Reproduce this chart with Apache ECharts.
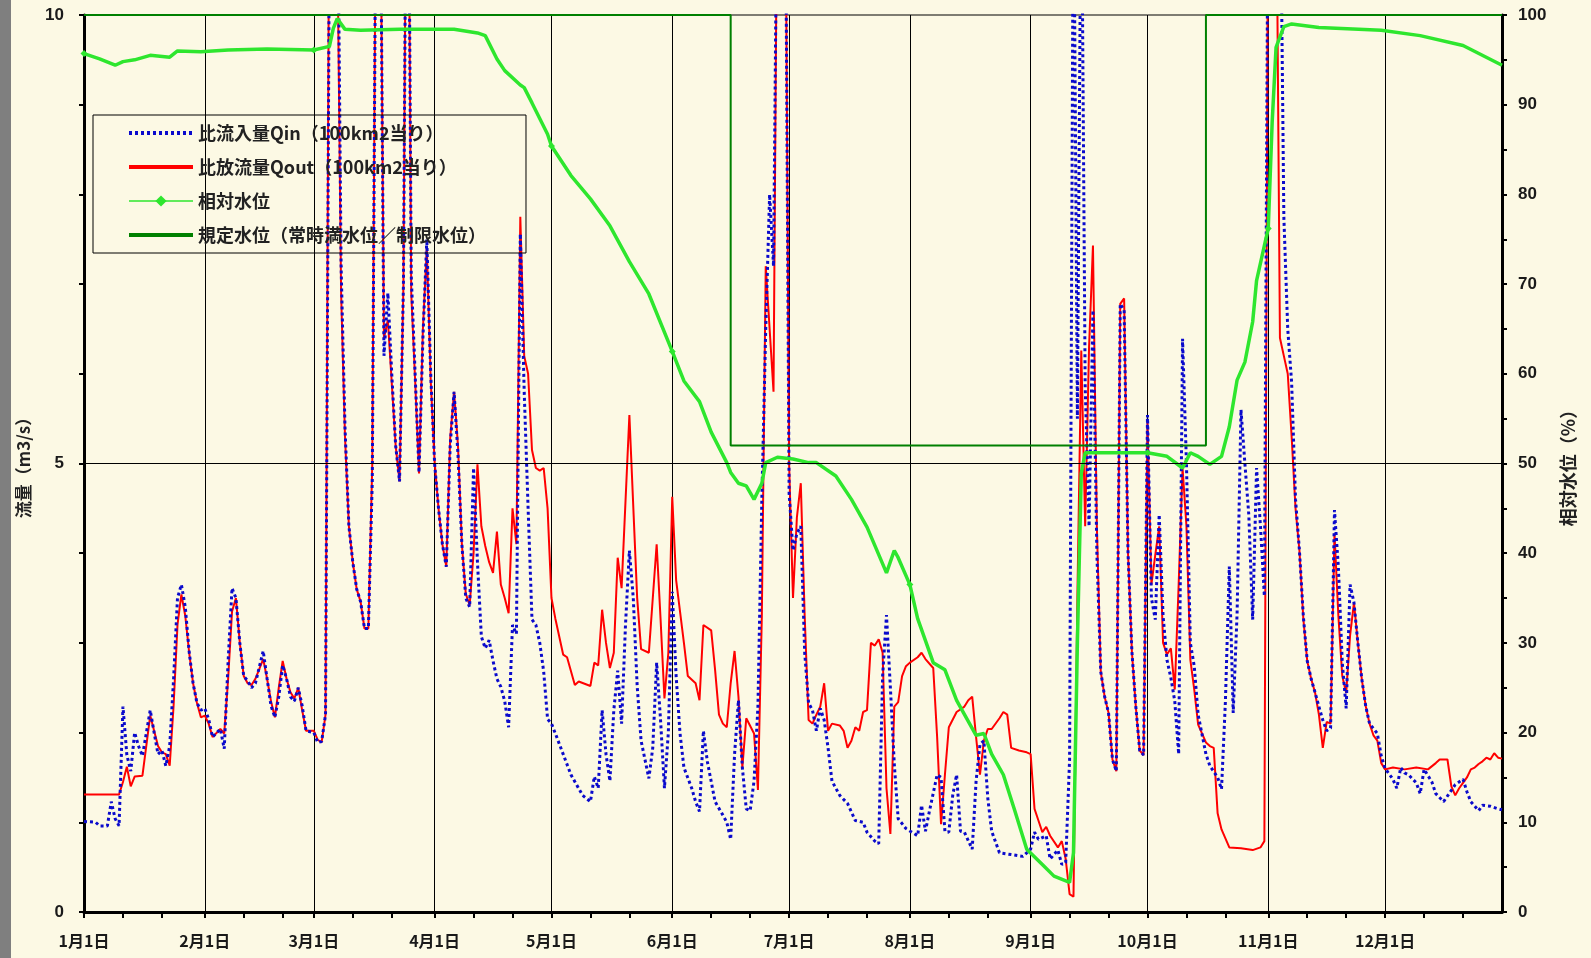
<!DOCTYPE html>
<html><head><meta charset="utf-8">
<script src="https://cdn.jsdelivr.net/npm/echarts/dist/echarts.min.js"></script>
<style>
html,body{margin:0;padding:0;background:#FCF9E4;}
#c{position:absolute;left:0;top:0;width:1591px;height:958px;}
#strip{position:absolute;left:0;top:0;width:11px;height:958px;background:#7F7F7F;z-index:5;}
</style>
</head><body><div id="c"></div><div id="strip"></div>
<script>
// ---- tick labels (categories: every day of the year) ----
const monthDays = [31,28,31,30,31,30,31,31,30,31,30,31];
const categories = [];
monthDays.forEach((n, m) => { for (let d = 1; d <= n; d++) categories.push((m + 1) + '月' + d + '日'); });

const leftAxisLabels = [0, 5, 10];
const rightAxisLabels = [0, 10, 20, 30, 40, 50, 60, 70, 80, 90, 100];

// ---- series values: [dayIndex, value] ----
const qin = [[0,1.01],[3,1.0],[4,0.96],[6,0.96],[7,1.23],[8,1.04],[9,0.96],[10,2.29],[11,1.75],[12,1.57],[13,2.0],[14,1.85],[15,1.74],[17,2.25],[18,2.0],[19,1.76],[20,1.8],[21,1.63],[22,1.85],[23,2.6],[24,3.5],[25,3.65],[26,3.4],[27,2.9],[28,2.55],[29,2.33],[30,2.25],[31,2.27],[32,2.15],[33,1.95],[35,2.04],[36,1.82],[37,2.8],[38,3.61],[39,3.5],[40,3.0],[41,2.63],[42,2.58],[43,2.5],[44,2.55],[46,2.91],[47,2.6],[48,2.3],[49,2.17],[50,2.4],[51,2.75],[52,2.6],[53,2.4],[54,2.35],[55,2.5],[56,2.3],[57,2.02],[59,2.0],[60,1.89],[61,1.9],[62,2.2],[63,11],[65,12],[66,7.2],[67,5.4],[68,4.3],[69,3.9],[70,3.6],[71,3.46],[72,3.16],[73,3.16],[74,4.8],[75,12],[76,12],[77,6.2],[78,6.9],[79,6.0],[80,5.2],[81,4.8],[82,7],[83,14],[84,7.1],[85,6.0],[86,4.9],[87,6.4],[88,7.5],[89,6.0],[90,5.0],[91,4.5],[92,4.1],[93,3.85],[94,5.2],[95,5.8],[96,5.1],[97,4.1],[98,3.5],[99,3.4],[100,4.95],[101,3.9],[102,3.07],[103,2.94],[104,3.03],[105,2.8],[106,2.6],[107,2.51],[108,2.35],[109,2.06],[110,3.2],[111,3.1],[112,7.56],[113,5.8],[114,4.5],[115,3.26],[116,3.2],[117,3.0],[118,2.68],[119,2.15],[120,2.1],[121,1.99],[123,1.76],[125,1.53],[128,1.3],[130,1.23],[131,1.51],[132,1.38],[133,2.25],[134,1.76],[135,1.46],[136,2.25],[137,2.69],[138,2.1],[139,3.2],[140,4.03],[141,3.5],[142,2.52],[143,1.91],[145,1.49],[146,1.83],[147,2.78],[148,2.14],[149,1.38],[150,2.0],[151,3.57],[152,2.63],[153,1.99],[154,1.61],[156,1.38],[157,1.23],[158,1.12],[159,2.02],[160,1.68],[162,1.23],[164,1.08],[165,1.0],[166,0.81],[167,1.76],[168,2.36],[169,1.61],[170,1.15],[171,1.13],[172,1.46],[173,2.29],[174,4.6],[175,6.5],[176,8.0],[177,7.2],[178,12],[180,12],[181,4.67],[182,4.03],[183,4.22],[184,4.3],[185,2.89],[186,2.33],[187,2.25],[188,2.02],[189,2.27],[190,2.14],[191,1.83],[192,1.46],[194,1.3],[196,1.21],[198,1.02],[200,1.0],[201,0.89],[203,0.79],[204,0.76],[205,2.63],[206,3.31],[207,2.5],[208,1.65],[209,1.04],[211,0.93],[214,0.85],[215,1.19],[216,0.9],[217,1.12],[219,1.53],[220,1.5],[221,0.9],[222,0.89],[223,1.3],[224,1.53],[225,0.9],[226,0.89],[228,0.7],[229,1.46],[230,1.87],[231,1.91],[232,1.27],[233,0.9],[235,0.66],[238,0.64],[241,0.62],[243,0.7],[244,0.89],[245,0.81],[247,0.85],[248,0.59],[250,0.69],[251,0.53],[252,0.55],[253,1.7],[254,12],[255,5.5],[256,12],[257,5.87],[258,4.3],[259,6.71],[260,4.0],[261,2.68],[262,2.4],[263,2.22],[264,1.7],[265,1.57],[266,6.78],[267,6.71],[268,4.0],[269,2.9],[270,2.29],[271,1.8],[272,1.75],[273,5.54],[274,3.5],[275,3.26],[276,4.43],[277,3.3],[278,2.81],[279,2.61],[280,2.35],[281,1.76],[282,6.39],[283,5.0],[284,3.0],[285,2.74],[286,2.2],[288,1.76],[289,1.63],[291,1.5],[292,1.37],[293,2.35],[294,3.85],[295,2.22],[296,3.33],[297,5.6],[298,5.0],[299,4.43],[300,3.26],[301,4.95],[302,4.3],[303,3.52],[304,12],[307,12],[308,7.75],[309,6.5],[310,5.9],[311,4.6],[312,4.03],[313,3.3],[314,2.8],[315,2.6],[316,2.45],[317,2.29],[318,2.14],[319,2.02],[320,2.05],[321,4.48],[322,3.84],[323,2.78],[324,2.27],[325,3.65],[326,3.45],[327,3.0],[328,2.6],[329,2.3],[330,2.1],[332,1.99],[333,1.74],[334,1.6],[336,1.48],[337,1.38],[338,1.61],[339,1.55],[340,1.53],[342,1.44],[343,1.32],[344,1.59],[346,1.45],[347,1.32],[349,1.23],[352,1.42],[354,1.48],[355,1.34],[356,1.23],[358,1.13],[359,1.19],[361,1.18],[363,1.15],[364,1.14]];

const qout = [[0,1.31],[9,1.31],[10,1.45],[11,1.62],[12,1.4],[13,1.51],[15,1.52],[17,2.19],[19,1.85],[20,1.78],[21,1.76],[22,1.63],[23,2.3],[24,3.2],[25,3.54],[26,3.3],[27,2.89],[28,2.55],[29,2.33],[30,2.17],[31,2.19],[32,2.1],[33,1.95],[35,2.04],[36,1.99],[37,2.6],[38,3.35],[39,3.5],[40,3.0],[41,2.63],[42,2.55],[43,2.53],[44,2.6],[46,2.82],[47,2.6],[48,2.35],[49,2.17],[50,2.5],[51,2.8],[52,2.6],[53,2.45],[54,2.38],[55,2.5],[56,2.25],[57,2.02],[59,2.02],[60,1.92],[61,1.89],[62,2.2],[63,12],[64,14],[65,11],[66,6.9],[67,5.3],[68,4.3],[69,3.9],[70,3.6],[71,3.46],[72,3.16],[73,3.16],[74,5],[75,12],[76,12],[77,6.4],[78,6.6],[79,5.9],[80,5.2],[81,4.8],[82,7],[83,14],[84,6.9],[85,5.93],[86,4.89],[87,6.5],[88,7.4],[89,5.93],[90,5.02],[91,4.5],[92,4.1],[93,3.85],[94,5.28],[95,5.8],[96,5.2],[97,4.1],[98,3.55],[99,3.42],[100,4.0],[101,4.99],[102,4.3],[103,4.08],[104,3.9],[105,3.78],[106,4.24],[107,3.65],[108,3.5],[109,3.33],[110,4.5],[111,4.1],[112,7.75],[113,6.2],[114,6.0],[115,5.15],[116,4.95],[117,4.92],[118,4.95],[119,4.5],[120,3.5],[121,3.27],[123,2.87],[124,2.84],[126,2.53],[127,2.57],[130,2.52],[131,2.78],[132,2.75],[133,3.37],[134,3.0],[135,2.72],[136,2.89],[137,3.95],[138,3.61],[140,5.54],[142,3.5],[143,2.93],[145,2.89],[147,4.1],[148,3.27],[149,2.38],[150,2.89],[151,4.63],[152,3.7],[154,3.0],[155,2.63],[157,2.55],[158,2.36],[159,3.2],[161,3.14],[162,2.7],[163,2.2],[164,2.1],[165,2.06],[166,2.55],[167,2.91],[168,2.4],[169,1.61],[170,2.16],[172,1.99],[173,1.36],[174,3.3],[175,7.2],[176,6.5],[177,5.8],[178,12],[180,12],[181,5.0],[182,3.5],[183,4.4],[184,4.78],[185,3.3],[186,2.14],[187,2.1],[188,2.2],[189,2.29],[190,2.55],[191,2.02],[192,2.1],[194,2.08],[195,2.02],[196,1.83],[197,1.91],[198,2.06],[199,2.02],[200,2.23],[201,2.25],[202,3.0],[203,2.97],[204,3.04],[205,2.89],[206,1.38],[207,0.87],[208,2.29],[209,2.34],[210,2.63],[211,2.74],[212,2.78],[214,2.84],[215,2.89],[216,2.82],[218,2.72],[219,1.95],[220,0.98],[221,1.53],[222,2.06],[224,2.23],[226,2.29],[227,2.36],[228,2.4],[229,1.95],[230,1.53],[231,1.91],[232,2.04],[233,2.04],[235,2.16],[236,2.23],[237,2.2],[238,1.83],[240,1.8],[242,1.78],[243,1.76],[244,1.15],[245,1.02],[246,0.89],[247,0.95],[248,0.85],[250,0.72],[251,0.79],[252,0.59],[253,0.2],[254,0.17],[255,3.5],[256,6.26],[257,4.3],[258,6.3],[259,7.43],[260,4.3],[261,2.68],[262,2.4],[263,2.22],[264,1.7],[265,1.57],[266,6.78],[267,6.84],[268,4.0],[269,2.9],[270,2.29],[271,1.8],[272,1.75],[273,5.47],[274,3.65],[275,3.98],[276,4.3],[277,3.0],[278,2.87],[279,2.94],[280,2.48],[281,3.65],[282,4.95],[283,4.3],[284,2.81],[285,2.48],[286,2.09],[288,1.89],[289,1.85],[290,1.83],[291,1.1],[292,0.92],[294,0.72],[297,0.71],[300,0.69],[302,0.72],[303,0.79],[304,12],[306,12],[307,6.4],[308,6.2],[309,6.0],[310,5.3],[311,4.5],[312,4.03],[313,3.27],[314,2.8],[315,2.6],[316,2.45],[317,2.2],[318,1.83],[319,2.12],[320,2.1],[321,4.22],[322,3.3],[323,2.63],[324,2.44],[325,3.08],[326,3.45],[327,3.0],[328,2.6],[329,2.3],[330,2.1],[331,1.97],[332,1.91],[333,1.66],[334,1.59],[336,1.61],[339,1.59],[342,1.61],[345,1.59],[347,1.66],[348,1.7],[350,1.7],[351,1.4],[352,1.3],[353,1.38],[354,1.44],[355,1.5],[356,1.59],[357,1.61],[358,1.65],[359,1.68],[360,1.72],[361,1.7],[362,1.77],[363,1.72],[364,1.71]];

const level = [[0,95.7],[4,95.1],[8,94.4],[10,94.8],[13,95.0],[17,95.5],[22,95.3],[24,96],[30,95.9],[37,96.1],[47,96.2],[59,96.1],[63,96.5],[64,98.5],[65,99.6],[67,98.4],[71,98.3],[81,98.4],[95,98.4],[101,98],[103,97.7],[106,95.1],[108,93.8],[112,92.2],[113,91.9],[115,90.2],[119,86.7],[120,85.4],[125,82.1],[130,79.5],[135,76.5],[140,72.5],[145,68.9],[151,62.5],[154,59.2],[158,56.9],[161,53.5],[165,50.1],[166,49],[168,47.8],[170,47.5],[172,46],[174,47.8],[175,50.1],[178,50.7],[182,50.5],[186,50.1],[188,50.1],[193,48.6],[197,46],[201,42.9],[206,37.8],[208,40.3],[209,39.5],[212,36.5],[214,32.7],[218,27.8],[221,27],[224,23.6],[229,19.7],[231,19.9],[233,17.6],[236,15.3],[239,11.2],[242,7.0],[246,5.3],[249,4.0],[253,3.3],[254,6.6],[255,30],[256,48.9],[257,51.2],[273,51.2],[278,50.8],[282,49.5],[284,51.2],[286,50.8],[289,49.9],[292,50.8],[294,54.1],[296,59.3],[298,61.3],[300,65.8],[301,70.4],[303,74.3],[304,76.2],[305,88],[306,96.4],[308,98.7],[310,99],[317,98.6],[333,98.3],[343,97.7],[354,96.6],[364,94.4]];

const ruleLevel = [[0,100],[166,100],[166,52],[288,52],[288,100],[364,100]];

const names = ['比流入量Qin（100km2当り）','比放流量Qout（100km2当り）','相対水位','規定水位（常時満水位／制限水位）'];

// ---- chart ----
const toCat = arr => arr.map(p => [categories[p[0]], p[1]]);
const jp = "'Noto Sans CJK JP', sans-serif";
const num = "'Liberation Sans', Arial, sans-serif";
const chart = echarts.init(document.getElementById('c'), null, {renderer: 'canvas'});
chart.setOption({
  animation: false,
  backgroundColor: '#FCF9E4',
  grid: {left: 84, right: 89, top: 15, bottom: 46, show: true, borderColor: '#000', borderWidth: 1, outerBoundsMode: 'none'},
  legend: {
    orient: 'vertical', left: 93, top: 115,
    padding: [9, 40, 9, 34],
    itemWidth: 64, itemHeight: 14, itemGap: 16, itemTextGap: 6,
    borderColor: '#000', borderWidth: 1,
    textStyle: {fontFamily: jp, fontSize: 18, fontWeight: 'bold', color: '#222', lineHeight: 18},
    data: [
      {name: names[0], lineStyle: {width: 4}, itemStyle: {opacity: 0}},
      {name: names[1], lineStyle: {width: 4}, itemStyle: {opacity: 0}},
      {name: names[2], lineStyle: {width: 1.5}},
      {name: names[3], lineStyle: {width: 4}, itemStyle: {opacity: 0}}
    ]
  },
  xAxis: {
    type: 'category', boundaryGap: false, data: categories,
    axisLine: {show: true, lineStyle: {color: '#000', width: 3}},
    axisTick: {show: true, length: 6, lineStyle: {color: '#000', width: 2},
      interval: (i, v) => /月(1|11|21)日$/.test(v)},
    axisLabel: {interval: (i, v) => /月1日$/.test(v), margin: 21,
      fontFamily: jp, fontSize: 16, fontWeight: 'bold', color: '#1a1a1a'},
    splitLine: {show: true, interval: (i, v) => /月1日$/.test(v) && i > 0,
      lineStyle: {color: '#000', width: 1}}
  },
  yAxis: [
    {type: 'value', min: 0, max: 10, interval: 1, position: 'left',
     name: '流量（m3/s）', nameLocation: 'middle', nameRotate: 90, nameGap: 52,
     nameTextStyle: {fontFamily: jp, fontSize: 17, fontWeight: 'bold', color: '#222'},
     axisLine: {show: true, lineStyle: {color: '#000', width: 3}},
     axisTick: {show: true, length: 5, lineStyle: {color: '#000', width: 2}},
     axisLabel: {margin: 20, fontFamily: num, fontSize: 17, fontWeight: 'bold', color: '#1a1a1a',
       formatter: v => leftAxisLabels.includes(v) ? String(v) : ''},
     splitLine: {show: false}},
    {type: 'value', min: 0, max: 100, interval: 5, position: 'right',
     name: '相対水位（%）', nameLocation: 'middle', nameRotate: 90, nameGap: 57,
     nameTextStyle: {fontFamily: jp, fontSize: 18, fontWeight: 'bold', color: '#222'},
     axisLine: {show: true, lineStyle: {color: '#000', width: 3}},
     axisTick: {show: true, length: 5, lineStyle: {color: '#000', width: 2}},
     axisLabel: {margin: 16, fontFamily: num, fontSize: 17, fontWeight: 'bold', color: '#1a1a1a',
       formatter: v => rightAxisLabels.includes(v) ? String(v) : ''},
     splitLine: {show: false}}
  ],
  series: [
    {name: names[0], type: 'line', yAxisIndex: 0, data: toCat(qin), symbol: 'none',
     lineStyle: {color: '#0A0ACC', width: 3, type: [3, 3]}, itemStyle: {color: '#0A0ACC'},
     markLine: {silent: true, symbol: 'none', label: {show: false},
       lineStyle: {color: '#000', width: 1, type: 'solid'}, data: [{yAxis: 5}]}, z: 3},
    {name: names[1], type: 'line', yAxisIndex: 0, data: toCat(qout), symbol: 'none',
     lineStyle: {color: '#FF0000', width: 2}, itemStyle: {color: '#FF0000'}, z: 2},
    {name: names[2], type: 'line', yAxisIndex: 1, data: toCat(level), symbol: 'diamond', symbolSize: 7, showSymbol: true,
     lineStyle: {color: '#2EE62E', width: 3.5}, itemStyle: {color: '#2EE62E'}, z: 4},
    {name: names[3], type: 'line', yAxisIndex: 1, data: toCat(ruleLevel), symbol: 'none',
     lineStyle: {color: '#008000', width: 2}, itemStyle: {color: '#008000'}, z: 5}
  ]
});
</script></body></html>
